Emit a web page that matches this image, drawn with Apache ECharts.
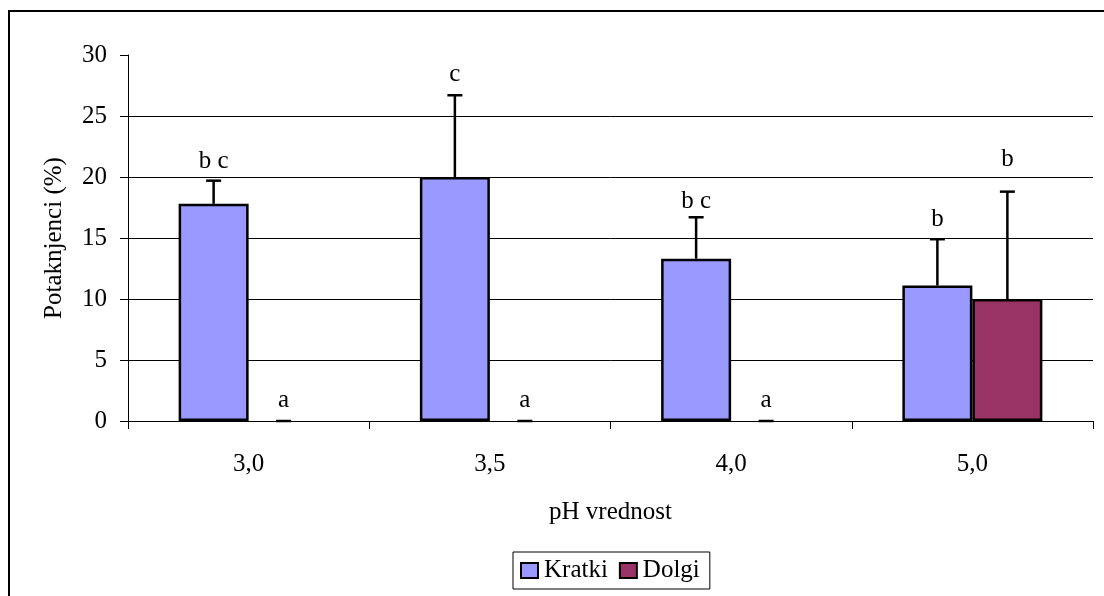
<!DOCTYPE html>
<html>
<head>
<meta charset="utf-8">
<script src="https://cdn.jsdelivr.net/npm/echarts@6/dist/echarts.min.js"></script>
<style>html,body{margin:0;padding:0;background:#fff}#c{width:1104px;height:596px}</style>
</head>
<body>
<div id="c"></div>
<script>
const categories = ['3,0', '3,5', '4,0', '5,0'];
const kratki = [17.8, 20.0, 13.3, 11.1];
const kratkiErr = [1.9, 6.7, 3.4, 3.8];
const kratkiLetters = ['b c', 'c', 'b c', 'b'];
const kratkiLetterY = [21.3, 28.4, 18.0, 16.5];
const dolgi = [0, 0, 0, 10.0];
const dolgiErr = [0, 0, 0, 8.8];
const dolgiLetters = ['a', 'a', 'a', 'b'];
const dolgiLetterY = [1.7, 1.7, 1.7, 21.4];
const yTicks = [0, 5, 10, 15, 20, 25, 30];

const FONT = '"Liberation Serif", "DejaVu Serif", serif';
const FS = 25;
const BAR_W = 70;

function barData(vals) {
  return vals.map(v => (v === 0 ? { value: v, itemStyle: { borderWidth: 0 } } : v));
}

function errSeries(vals, errs, letters, letterY, offset) {
  return {
    type: 'custom',
    z: 5,
    silent: true,
    encode: { x: 0, y: 1 },
    data: vals.map((v, i) => [i, v, errs[i], letterY[i]]),
    renderItem: function (params, api) {
      const i = api.value(0), v = api.value(1), e = api.value(2), ly = api.value(3);
      const base = api.coord([i, v]);
      const top = api.coord([i, v + e]);
      const lab = api.coord([i, ly]);
      const x = base[0] + offset;
      const children = [];
      if (e > 0) {
        children.push({ type: 'line', shape: { x1: x, y1: base[1], x2: x, y2: top[1] }, style: { stroke: '#000', lineWidth: 2.5 } });
      }
      children.push({ type: 'line', shape: { x1: x - 7.5, y1: top[1], x2: x + 7.5, y2: top[1] }, style: { stroke: '#000', lineWidth: 2.5 } });
      children.push({
        type: 'text',
        style: {
          x: x, y: lab[1], text: letters[params.dataIndex],
          textAlign: 'center', textVerticalAlign: 'middle',
          font: FS + 'px ' + FONT, fill: '#000'
        }
      });
      return { type: 'group', children: children };
    }
  };
}

const chart = echarts.init(document.getElementById('c'), null, { renderer: 'canvas' });
chart.setOption({
  animation: false,
  backgroundColor: '#fff',
  textStyle: { fontFamily: FONT, color: '#000' },
  graphic: [{
    type: 'rect', silent: true,
    shape: { x: 9, y: 11, width: 1200, height: 700 },
    style: { fill: 'none', stroke: '#000', lineWidth: 2 }
  }],
  grid: { left: 128, right: 11, top: 55, bottom: 175, containLabel: false },
  legend: {
    left: 513, top: 552,
    borderColor: '#000', borderWidth: 1, padding: [6, 10, 6, 7],
    itemWidth: 17, itemHeight: 15, itemGap: 11,
    icon: 'rect',
    textStyle: { fontFamily: FONT, fontSize: FS, color: '#000', padding: [0, 0, 0, 1] },
    data: ['Kratki', 'Dolgi']
  },
  xAxis: {
    type: 'category',
    data: categories,
    name: 'pH vrednost',
    nameLocation: 'middle',
    nameGap: 79,
    nameTextStyle: { fontFamily: FONT, fontSize: FS, color: '#000' },
    axisLine: { lineStyle: { color: '#000', width: 1 } },
    axisTick: { show: true, length: 8, alignWithLabel: false, lineStyle: { color: '#000' } },
    axisLabel: { fontFamily: FONT, fontSize: FS, color: '#000', margin: 31 },
    splitLine: { show: false }
  },
  yAxis: {
    type: 'value',
    min: 0, max: 30, interval: 5,
    name: 'Potaknjenci (%)',
    nameLocation: 'middle',
    nameGap: 61,
    nameRotate: 90,
    nameTextStyle: { fontFamily: FONT, fontSize: FS, color: '#000' },
    axisLine: { show: true, lineStyle: { color: '#000', width: 1 } },
    axisTick: { show: true, length: 8, lineStyle: { color: '#000' } },
    axisLabel: {
      fontFamily: FONT, fontSize: FS, color: '#000', margin: 21,
      formatter: v => (yTicks.indexOf(v) >= 0 ? String(v) : '')
    },
    splitLine: {
      show: true,
      lineStyle: { color: ['#000', '#000', '#000', '#000', '#000', '#000', 'rgba(0,0,0,0)'], width: 1 }
    }
  },
  series: [
    {
      name: 'Kratki', type: 'bar', data: barData(kratki), barWidth: BAR_W, barGap: '0%',
      itemStyle: { color: '#9999FF', borderColor: '#000', borderWidth: 2.5 }
    },
    {
      name: 'Dolgi', type: 'bar', data: barData(dolgi), barWidth: BAR_W, barGap: '0%',
      itemStyle: { color: '#993366', borderColor: '#000', borderWidth: 2.5 }
    },
    errSeries(kratki, kratkiErr, kratkiLetters, kratkiLetterY, -BAR_W / 2),
    errSeries(dolgi, dolgiErr, dolgiLetters, dolgiLetterY, BAR_W / 2)
  ]
});
</script>
</body>
</html>
